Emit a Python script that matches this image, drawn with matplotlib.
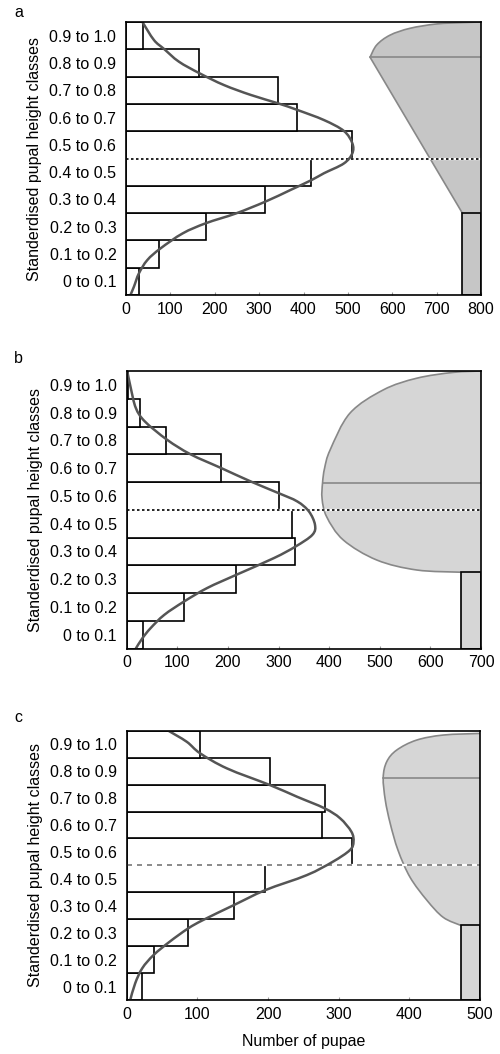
import matplotlib.pyplot as plt
from matplotlib.path import Path
from matplotlib.patches import PathPatch

plt.rcParams['font.family'] = ['Liberation Sans', 'DejaVu Sans']

# height classes (bottom to top)
classes = ['0 to 0.1', '0.1 to 0.2', '0.2 to 0.3', '0.3 to 0.4', '0.4 to 0.5',
           '0.5 to 0.6', '0.6 to 0.7', '0.7 to 0.8', '0.8 to 0.9', '0.9 to 1.0']
class_mid = [0.05, 0.15, 0.25, 0.35, 0.45, 0.55, 0.65, 0.75, 0.85, 0.95]

# number of pupae per class
counts_a = [30, 74, 180, 314, 417, 509, 385, 342, 164, 38]
counts_b = [33, 113, 216, 333, 327, 300, 186, 78, 26, 3]
counts_c = [22, 38, 87, 152, 196, 319, 277, 280, 203, 104]

# fitted curves (height, count)
curve_a_y = [0, 0.031, 0.079, 0.128, 0.171, 0.226, 0.263, 0.299, 0.342, 0.385, 0.421,
             0.446, 0.482, 0.519, 0.556, 0.601, 0.641, 0.678, 0.702, 0.733, 0.769, 0.812,
             0.855, 0.901, 0.934, 1.0]
curve_a_x = [10, 18, 29, 48, 78, 128, 180, 248, 314, 371, 418,
             446, 491, 510, 510, 491, 446, 386, 343, 281, 221, 166,
             119, 86, 63, 37]
curve_b_y = [0, 0.037, 0.073, 0.121, 0.169, 0.218, 0.266, 0.326, 0.368, 0.410, 0.446,
             0.494, 0.530, 0.560, 0.602, 0.650, 0.70, 0.752, 0.818, 0.867, 0.939, 1.0]
curve_b_x = [18, 31, 47, 74, 113, 159, 217, 291, 334, 367, 372,
             360, 337, 300, 245, 187, 126, 80, 36, 18, 8, 1]
curve_c_y = [0, 0.062, 0.118, 0.167, 0.217, 0.266, 0.297, 0.353, 0.408, 0.464, 0.514,
             0.557, 0.588, 0.625, 0.675, 0.712, 0.755, 0.798, 0.86, 0.916, 0.959, 1.0]
curve_c_x = [5, 12, 22, 38, 61, 87, 108, 152, 196, 255, 292,
             316, 321, 318, 302, 280, 241, 203, 142, 104, 85, 59]

# grey shapes on the right (upper and lower outlines, count vs height)
shape_a_up_x = [550, 565, 595, 640, 700, 760, 800]
shape_a_up_y = [0.871, 0.916, 0.952, 0.977, 0.993, 0.998, 1.0]
shape_a_lo_x = [550, 758]
shape_a_lo_y = [0.871, 0.30]
shape_b_up_x = [387, 391, 402, 441, 507, 573, 645, 700]
shape_b_up_y = [0.598, 0.65, 0.716, 0.848, 0.932, 0.974, 0.995, 1.0]
shape_b_lo_x = [387, 386, 395, 428, 494, 573, 660]
shape_b_lo_y = [0.598, 0.54, 0.475, 0.391, 0.319, 0.283, 0.275]
shape_c_up_x = [363, 368, 382, 410, 448, 500]
shape_c_up_y = [0.826, 0.885, 0.928, 0.965, 0.984, 0.99]
shape_c_lo_x = [363, 366, 373, 384, 401, 425, 448, 473]
shape_c_lo_y = [0.826, 0.742, 0.655, 0.556, 0.456, 0.37, 0.307, 0.277]

xmax = [800, 700, 500]


def smooth(xs, ys):
    # catmull-rom through the points, as bezier segments
    pts = list(zip(xs, ys))
    verts = [pts[0]]
    codes = [Path.MOVETO]
    for i in range(len(pts) - 1):
        p0 = pts[i - 1] if i > 0 else pts[i]
        p1 = pts[i]
        p2 = pts[i + 1]
        p3 = pts[i + 2] if i + 2 < len(pts) else pts[i + 1]
        c1 = (p1[0] + (p2[0] - p0[0]) / 6, p1[1] + (p2[1] - p0[1]) / 6)
        c2 = (p2[0] - (p3[0] - p1[0]) / 6, p2[1] - (p3[1] - p1[1]) / 6)
        verts += [c1, c2, p2]
        codes += [Path.CURVE4] * 3
    return verts, codes


panels = [
    ('a', counts_a, curve_a_x, curve_a_y, shape_a_up_x, shape_a_up_y, shape_a_lo_x, shape_a_lo_y, '#c6c6c6'),
    ('b', counts_b, curve_b_x, curve_b_y, shape_b_up_x, shape_b_up_y, shape_b_lo_x, shape_b_lo_y, '#d6d6d6'),
    ('c', counts_c, curve_c_x, curve_c_y, shape_c_up_x, shape_c_up_y, shape_c_lo_x, shape_c_lo_y, '#d6d6d6'),
]
boxes = [[0.252, 0.7201, 0.710, 0.2590],
         [0.2534, 0.3847, 0.7086, 0.2633],
         [0.2534, 0.0512, 0.7066, 0.2555]]
letter_y = [0.984, 0.656, 0.315]

fig = plt.figure(figsize=(5, 10.54), dpi=100)

for i, (letter, counts, cx, cy, ux, uy, lx, ly, grey) in enumerate(panels):
    ax = fig.add_axes(boxes[i])
    xm = xmax[i]

    # grey shape outline, from the bar corner round through the vertex to the top
    if letter == 'a':
        v1, c1 = smooth(lx[::-1], ly[::-1])
        v2, c2 = smooth(ux, uy)
        verts = v1 + v2[1:]
        codes = c1 + c2[1:]
    else:
        verts, codes = smooth(lx[::-1] + ux[1:], ly[::-1] + uy[1:])
    outline = Path(verts, codes)
    shape = Path(verts + [(xm, uy[-1]), (xm, ly[-1]), verts[0]],
                 codes + [Path.LINETO, Path.LINETO, Path.CLOSEPOLY])
    ax.add_patch(PathPatch(shape, facecolor=grey, lw=0, zorder=1))
    ax.add_patch(PathPatch(outline, facecolor='none', edgecolor='#888888', lw=1.2, zorder=2))
    ax.plot([ux[0], xm], [uy[0], uy[0]], color='#888888', lw=1.2, zorder=2)
    ax.bar(lx[-1], ly[-1], width=xm - lx[-1], align='edge', color=grey,
           edgecolor='black', lw=1.2, zorder=2)

    # histogram
    ax.barh(class_mid, counts, height=0.1, color='white', edgecolor='black', lw=1.2, zorder=3)

    # mid line
    ax.axhline(0.5, color='white', lw=1.6, zorder=4)
    if letter == 'c':
        ax.axhline(0.5, color='#777777', lw=1.2, ls=(0, (3, 3)), zorder=5)
    else:
        ax.axhline(0.5, color='black', lw=1.2, ls=(0, (1.5, 1.5)), zorder=5)

    # fitted curve
    cv, cc = smooth(cx, cy)
    ax.add_patch(PathPatch(Path(cv, cc), facecolor='none', edgecolor='#555555', lw=1.8, zorder=6))

    ax.set_xlim(0, xm)
    ax.set_ylim(0, 1)
    ax.set_xticks(range(0, xm + 1, 100))
    ax.set_yticks(class_mid)
    ax.set_yticklabels(classes)
    ax.tick_params(axis='y', length=0, pad=7, labelsize=11.5)
    ax.tick_params(axis='x', direction='in', length=2.5, color='#999999', pad=5, labelsize=11.5)
    for s in ax.spines.values():
        s.set_linewidth(1.2)
        s.set_zorder(7)
    ax.set_ylabel('Standerdised pupal height classes', fontsize=11.5, labelpad=5)
    fig.text(0.028, letter_y[i], letter, fontsize=11.5)
    if letter == 'c':
        ax.set_xlabel('Number of pupae', fontsize=11.5, labelpad=9)

fig.savefig('out.png', dpi=100)
